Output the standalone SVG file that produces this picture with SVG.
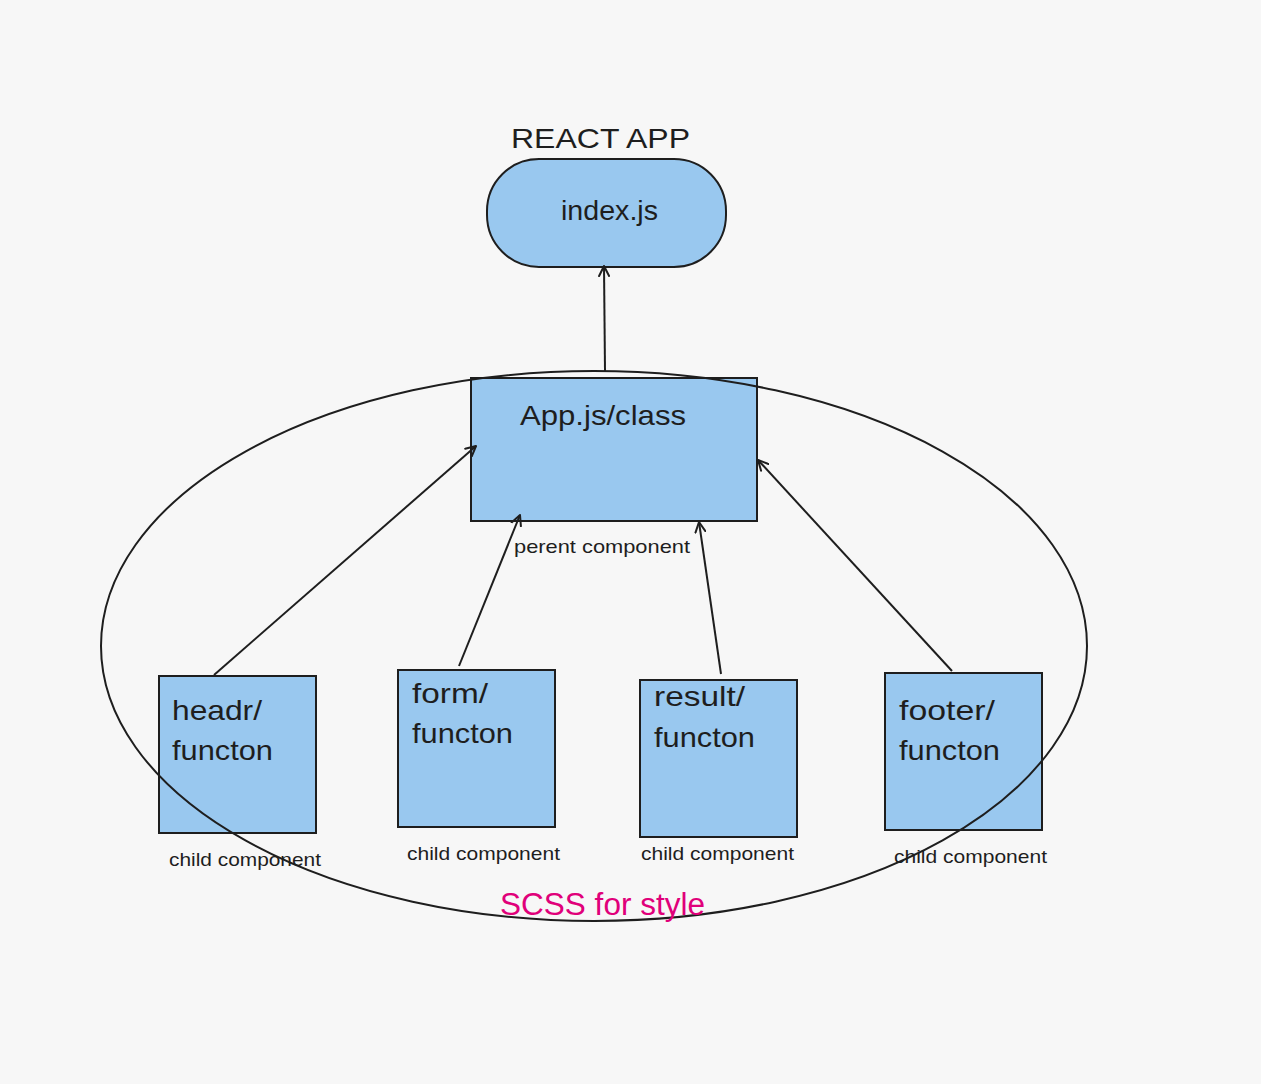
<svg xmlns="http://www.w3.org/2000/svg" width="1261" height="1084" viewBox="0 0 1261 1084">
<defs>
<marker id="ah" viewBox="0 0 12 12" refX="11" refY="6" markerWidth="12" markerHeight="12" markerUnits="userSpaceOnUse" orient="auto">
<path d="M1,1 L11,6 L1,11" fill="none" stroke="#1e1e1e" stroke-width="2" stroke-linecap="round" stroke-linejoin="round"/>
</marker>
<style>
.box{fill:#99c8ef;stroke:#1e1e1e;stroke-width:2}
.t{font-family:"Liberation Sans",Arial,sans-serif;fill:#1e1e1e}
.big{font-size:28px}
.small{font-size:19px}
.edge{fill:none;stroke:#1e1e1e;stroke-width:2;marker-end:url(#ah)}
</style>
</defs>
<rect width="1261" height="1084" fill="#f7f7f7"/>
<g id="title">
<text class="t big" x="511" y="148" textLength="179" lengthAdjust="spacingAndGlyphs">REACT APP</text>
</g>
<g id="index">
<rect class="box" x="487" y="159" width="239" height="108" rx="52" ry="52"/>
<text class="t big" x="561" y="220" textLength="97" lengthAdjust="spacingAndGlyphs">index.js</text>
</g>
<g id="app">
<rect class="box" x="471" y="378" width="286" height="143"/>
<text class="t big" x="520" y="425" textLength="166" lengthAdjust="spacingAndGlyphs">App.js/class</text>
<text class="t small" x="514" y="553" textLength="176" lengthAdjust="spacingAndGlyphs">perent component</text>
</g>
<g id="header">
<rect class="box" x="159" y="676" width="157" height="157"/>
<text class="t big" x="172" y="720" textLength="90" lengthAdjust="spacingAndGlyphs">headr/</text>
<text class="t big" x="172" y="760" textLength="101" lengthAdjust="spacingAndGlyphs">functon</text>
<text class="t small" x="169" y="866" textLength="152" lengthAdjust="spacingAndGlyphs">child component</text>
</g>
<g id="form">
<rect class="box" x="398" y="670" width="157" height="157"/>
<text class="t big" x="412" y="703" textLength="76" lengthAdjust="spacingAndGlyphs">form/</text>
<text class="t big" x="412" y="743" textLength="101" lengthAdjust="spacingAndGlyphs">functon</text>
<text class="t small" x="407" y="860" textLength="153" lengthAdjust="spacingAndGlyphs">child component</text>
</g>
<g id="result">
<rect class="box" x="640" y="680" width="157" height="157"/>
<text class="t big" x="654" y="706" textLength="91" lengthAdjust="spacingAndGlyphs">result/</text>
<text class="t big" x="654" y="747" textLength="101" lengthAdjust="spacingAndGlyphs">functon</text>
<text class="t small" x="641" y="860" textLength="153" lengthAdjust="spacingAndGlyphs">child component</text>
</g>
<g id="footer">
<rect class="box" x="885" y="673" width="157" height="157"/>
<text class="t big" x="899" y="720" textLength="96" lengthAdjust="spacingAndGlyphs">footer/</text>
<text class="t big" x="899" y="760" textLength="101" lengthAdjust="spacingAndGlyphs">functon</text>
<text class="t small" x="894" y="863" textLength="153" lengthAdjust="spacingAndGlyphs">child component</text>
</g>
<g id="scope">
<ellipse cx="594" cy="646" rx="493" ry="275" fill="none" stroke="#1e1e1e" stroke-width="2"/>
<text class="t" x="500" y="915" font-size="31" style="fill:#e0007a" textLength="205" lengthAdjust="spacingAndGlyphs">SCSS for style</text>
</g>
<g id="connectors">
<path class="edge" d="M605,371 L604,266"/>
<path class="edge" d="M214,675 L476,446"/>
<path class="edge" d="M459,666 L520,515"/>
<path class="edge" d="M721,674 L699,522"/>
<path class="edge" d="M952,671 L758,460"/>
</g>
</svg>
